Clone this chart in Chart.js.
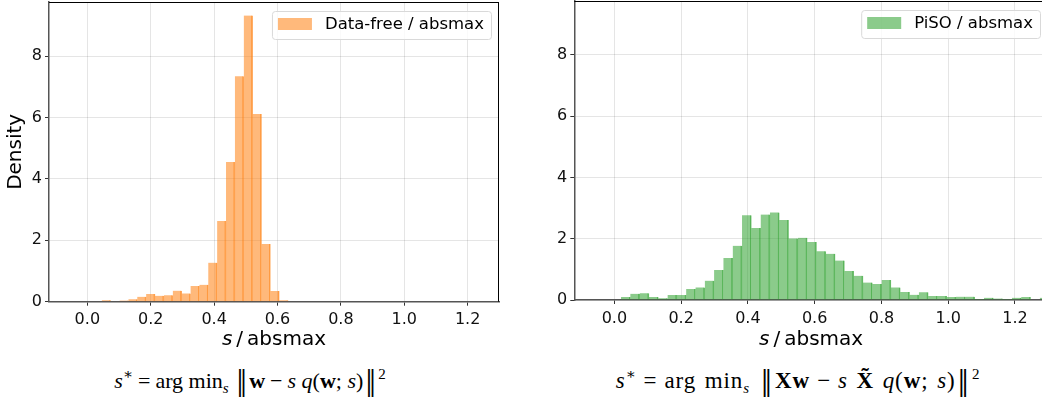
<!DOCTYPE html>
<html><head><meta charset="utf-8">
<script src="https://cdn.jsdelivr.net/npm/chart.js@4.4.1/dist/chart.umd.min.js"></script>
<style>
html,body{margin:0;padding:0;background:#fff;width:1042px;height:404px;overflow:hidden;position:relative;}
#c1{position:absolute;left:0;top:0;}
#c2{position:absolute;left:520px;top:0;}
.f{position:absolute;top:366px;font-family:"Liberation Serif","DejaVu Serif",serif;font-size:22px;white-space:nowrap;transform:translateX(-50%);color:#000;line-height:30px;}
.f sup{font-size:15px;vertical-align:9px;line-height:0;}
.f sub{font-size:15px;vertical-align:-5px;line-height:0;}
.f b{font-weight:bold;}
.f .n{font-family:"DejaVu Serif",serif;font-size:22px;display:inline-block;transform:scaleY(1.25);margin:0 2px;}
.f .op{margin:0 5px;}
.f.wide{font-size:23px;letter-spacing:0.9px;word-spacing:2px;top:365px;}
.f.wide .op{margin:0 7px;}
.f.wide .n{font-size:23px;}
</style></head><body>
<canvas id="c1" width="520" height="360" style="width:520px;height:360px"></canvas>
<canvas id="c2" width="540" height="360" style="width:540px;height:360px"></canvas>
<div class="f" style="left:250px"><i>s</i><sup>∗</sup><span class="op">=</span>arg min<sub><i>s</i></sub> <span class="n">‖</span><b>w</b><span class="op">−</span><i>s</i> <i>q</i>(<b>w</b>; <i>s</i>)<span class="n">‖</span><sup>2</sup></div>
<div class="f wide" style="left:798px"><i>s</i><sup>∗</sup><span class="op">=</span>arg min<sub><i>s</i></sub> <span class="n">‖</span><b>Xw</b><span class="op">−</span><i>s</i> <b>X̃</b> <i>q</i>(<b>w</b>; <i>s</i>)<span class="n">‖</span><sup>2</sup></div>
<script>
// ---- data ----
const xTicks = [0.0, 0.2, 0.4, 0.6, 0.8, 1.0, 1.2];
const yTicks = [0, 2, 4, 6, 8];
const xMinLeft = -0.121, xMinRight = -0.12, xMax = 1.299, yMax = 9.76;

const leftLabel = "Data-free / absmax";
const leftBinStart = 0.0456;
const leftBinWidth = 0.028;
const leftDensity = [0.05, 0, 0.04, 0.08, 0.16, 0.25, 0.19, 0.21, 0.36, 0.27, 0.51, 0.55,
  1.27, 2.63, 4.55, 7.34, 9.32, 6.11, 1.88, 0.35, 0.05];

const rightLabel = "PiSO / absmax";
const rightBinStart = 0.020;
const rightBinWidth = 0.02788;
const rightDensity = [0.10, 0.20, 0.22, 0.10, 0.06, 0.16, 0.16, 0.36, 0.41, 0.63, 0.98, 1.37,
  1.77, 2.77, 2.35, 2.79, 2.86, 2.61, 2.01, 2.03, 1.89, 1.59, 1.51, 1.29, 0.95, 0.79, 0.57,
  0.52, 0.65, 0.41, 0.26, 0.17, 0.25, 0.13, 0.13, 0.10, 0.11, 0.11, 0.03, 0.07, 0.05, 0.03,
  0.07, 0.10, 0.02, 0.07];

const xTitleItalic = "s";
const xTitleRest = "/\u2009absmax";
const yTitle = "Density";

// ---- helpers ----
function toPoints(vals, start, width) {
  return vals.map((v, i) => ({x: start + (i + 0.5) * width, y: v}));
}

const decorPlugin = {
  id: 'decor',
  afterDraw(chart, args, o) {
    const ctx = chart.ctx, a = chart.chartArea;
    ctx.save();
    // top/right spines
    ctx.strokeStyle = '#000'; ctx.lineWidth = 1;
    ctx.beginPath();
    ctx.moveTo(a.left, a.top + 0.5); ctx.lineTo(a.right, a.top + 0.5);
    ctx.moveTo(a.right - 0.5, a.top); ctx.lineTo(a.right - 0.5, a.bottom);
    ctx.stroke();
    // legend
    const ds = chart.data.datasets[0];
    ctx.font = '16.5px "DejaVu Sans"';
    const tw = ctx.measureText(ds.label).width;
    const bw = 6 + 34 + 13 + tw + 7, bh = 28;
    const bx = a.right - 8 - bw, by = a.top + 9;
    ctx.fillStyle = 'rgba(255,255,255,0.8)';
    ctx.strokeStyle = '#d9d9d9'; ctx.lineWidth = 1;
    ctx.beginPath();
    ctx.roundRect(bx + 0.5, by + 0.5, bw, bh, 3);
    ctx.fill(); ctx.stroke();
    ctx.fillStyle = ds.backgroundColor;
    ctx.fillRect(bx + 6, by + 7, 34, 12);
    ctx.fillStyle = '#000';
    ctx.textBaseline = 'middle'; ctx.textAlign = 'left';
    ctx.fillText(ds.label, bx + 6 + 34 + 13, by + 14);
    // x title
    const cx = (a.left + a.right) / 2;
    ctx.font = 'italic 20px "DejaVu Sans"';
    const w1 = ctx.measureText(xTitleItalic).width;
    ctx.font = '20px "DejaVu Sans"';
    const gap = 4;
    const w2 = ctx.measureText(xTitleRest).width;
    const x0 = cx - (w1 + gap + w2) / 2;
    ctx.textBaseline = 'alphabetic';
    ctx.font = 'italic 20px "DejaVu Sans"';
    ctx.fillText(xTitleItalic, x0, 345);
    ctx.font = '20px "DejaVu Sans"';
    ctx.fillText(xTitleRest, x0 + w1 + gap, 345);
    // y title
    if (o && o.yTitle) {
      ctx.translate(15.5, (a.top + a.bottom) / 2);
      ctx.rotate(-Math.PI / 2);
      ctx.textAlign = 'center'; ctx.textBaseline = 'middle';
      ctx.font = '20px "DejaVu Sans"';
      ctx.fillText(o.yTitle, 0, 0);
    }
    ctx.restore();
  }
};

function makeChart(id, vals, start, width, label, bg, edge, xMin, yAxisWidth, padTop, padRight, xAxisHeight, showYTitle) {
  return new Chart(document.getElementById(id), {
    type: 'bar',
    data: {
      datasets: [{
        label: label,
        data: toPoints(vals, start, width),
        backgroundColor: bg,
        borderColor: edge,
        borderWidth: {top: 0, right: 1, left: 0, bottom: 0},
        borderSkipped: false,
        barPercentage: 1,
        categoryPercentage: 1,
        grouped: false
      }]
    },
    options: {
      responsive: false,
      animation: false,
      devicePixelRatio: 1,
      layout: {padding: {left: 0, right: padRight, top: padTop, bottom: 0}},
      plugins: {legend: {display: false}, tooltip: {enabled: false}, decor: {yTitle: showYTitle ? yTitle : null}},
      scales: {
        x: {
          type: 'linear', min: xMin, max: xMax, offset: false,
          grid: {offset: false, color: 'rgba(0,0,0,0.1)', tickLength: 4, tickColor: '#333', lineWidth: 1},
          border: {display: true, color: '#555', width: 1.5},
          ticks: {color: '#111', font: {family: 'DejaVu Sans', size: 16}, padding: 5, maxRotation: 0,
            includeBounds: false, callback: v => Number(v).toFixed(1)},
          afterBuildTicks: s => { s.ticks = xTicks.map(v => ({value: v})); },
          afterFit: s => { s.height = xAxisHeight; s.paddingLeft = 0; s.paddingRight = 0; }
        },
        y: {
          type: 'linear', min: 0, max: yMax,
          grid: {color: 'rgba(0,0,0,0.1)', tickLength: 4, tickColor: '#333', lineWidth: 1},
          border: {display: true, color: '#555', width: 1.5},
          ticks: {color: '#111', font: {family: 'DejaVu Sans', size: 16}, padding: 3, includeBounds: false,
            callback: v => String(v)},
          afterBuildTicks: s => { s.ticks = yTicks.map(v => ({value: v})); },
          afterFit: s => { s.width = yAxisWidth; s.paddingTop = 0; s.paddingBottom = 0; }
        }
      }
    },
    plugins: [decorPlugin]
  });
}

makeChart('c1', leftDensity, leftBinStart, leftBinWidth, leftLabel,
  'rgba(255,127,14,0.55)', 'rgba(255,127,14,0.68)', xMinLeft, 49, 2, 21, 58.3, true);
makeChart('c2', rightDensity, rightBinStart, rightBinWidth, rightLabel,
  'rgba(44,160,44,0.55)', 'rgba(44,160,44,0.68)', xMinRight, 54.3, 1, 12, 60, false);
</script>
</body></html>
